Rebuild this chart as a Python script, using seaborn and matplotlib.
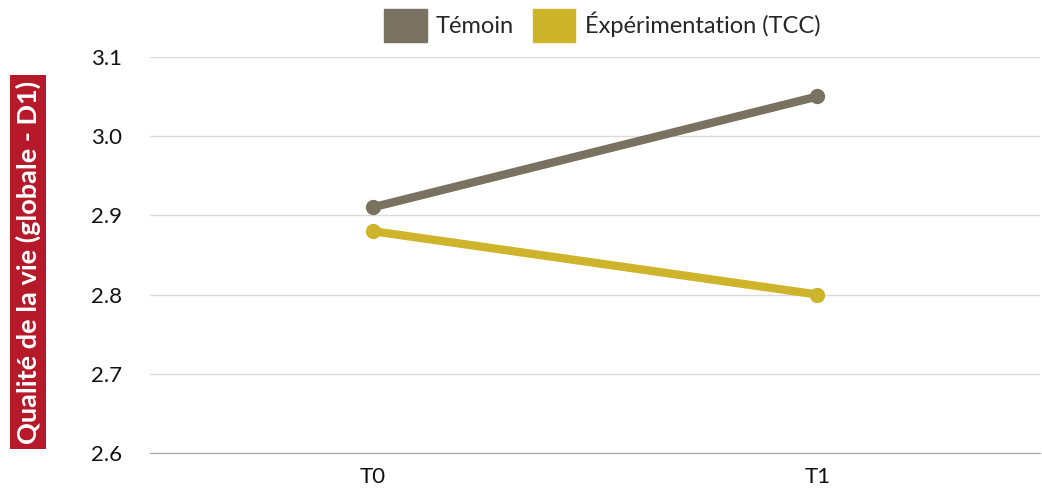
import pandas as pd
import matplotlib.pyplot as plt
import seaborn as sns
from matplotlib.patches import Patch

# data
temps = ["T0", "T1"]
temoin = [2.91, 3.05]
experimentation = [2.88, 2.80]
groupes = ["Témoin", "Éxpérimentation (TCC)"]
couleurs = ["#7a7260", "#cdb42a"]

df = pd.DataFrame({
    "temps": temps * 2,
    "valeur": temoin + experimentation,
    "groupe": [groupes[0]] * 2 + [groupes[1]] * 2,
})
df["x"] = df["temps"].map({t: i for i, t in enumerate(temps)})

sns.set_style("white")
plt.rcParams["font.family"] = ["Lato", "DejaVu Sans"]

fig = plt.figure(figsize=(10.42, 4.9), dpi=100)
ax = fig.add_axes([0.144, 0.0755, 0.854, 0.8085])

sns.lineplot(data=df, x="x", y="valeur", hue="groupe", palette=couleurs,
             linewidth=6, marker="o", markersize=11, markeredgewidth=0,
             ax=ax, legend=False)

ax.set_xlim(-0.5, 1.5)
ax.set_ylim(2.6, 3.1)
ax.set_xticks(range(len(temps)))
ax.set_xticklabels(temps)
ax.set_yticks([2.6, 2.7, 2.8, 2.9, 3.0, 3.1])
ax.set_yticklabels(["2.6", "2.7", "2.8", "2.9", "3.0", "3.1"])
ax.yaxis.grid(True, color="#d9d9d9", linewidth=1)
ax.set_axisbelow(True)
for s in ["top", "right", "left"]:
    ax.spines[s].set_visible(False)
ax.spines["bottom"].set_color("#a6a6a6")
ax.tick_params(axis="both", length=0, labelsize=16, colors="#111111")
ax.tick_params(axis="y", pad=20)
ax.tick_params(axis="x", pad=10)
ax.set_xlabel("")
ax.set_ylabel("")

# y label in red box
fig.text(0.027, 0.465, "Qualité de la vie (globale - D1)", rotation=90,
         ha="center", va="center", color="white", fontsize=19.5, fontweight="bold",
         bbox=dict(boxstyle="square,pad=0.2", fc="#b5192a", ec="none"))

# legend
handles = [Patch(color=c, label=g) for c, g in zip(couleurs, groupes)]
fig.legend(handles=handles, loc="upper center", bbox_to_anchor=(0.578, 1.025),
           ncol=2, frameon=False, fontsize=17, handlelength=1.8, handleheight=1.8,
           handletextpad=0.4, columnspacing=0.8)

fig.savefig("out.png", dpi=100)
